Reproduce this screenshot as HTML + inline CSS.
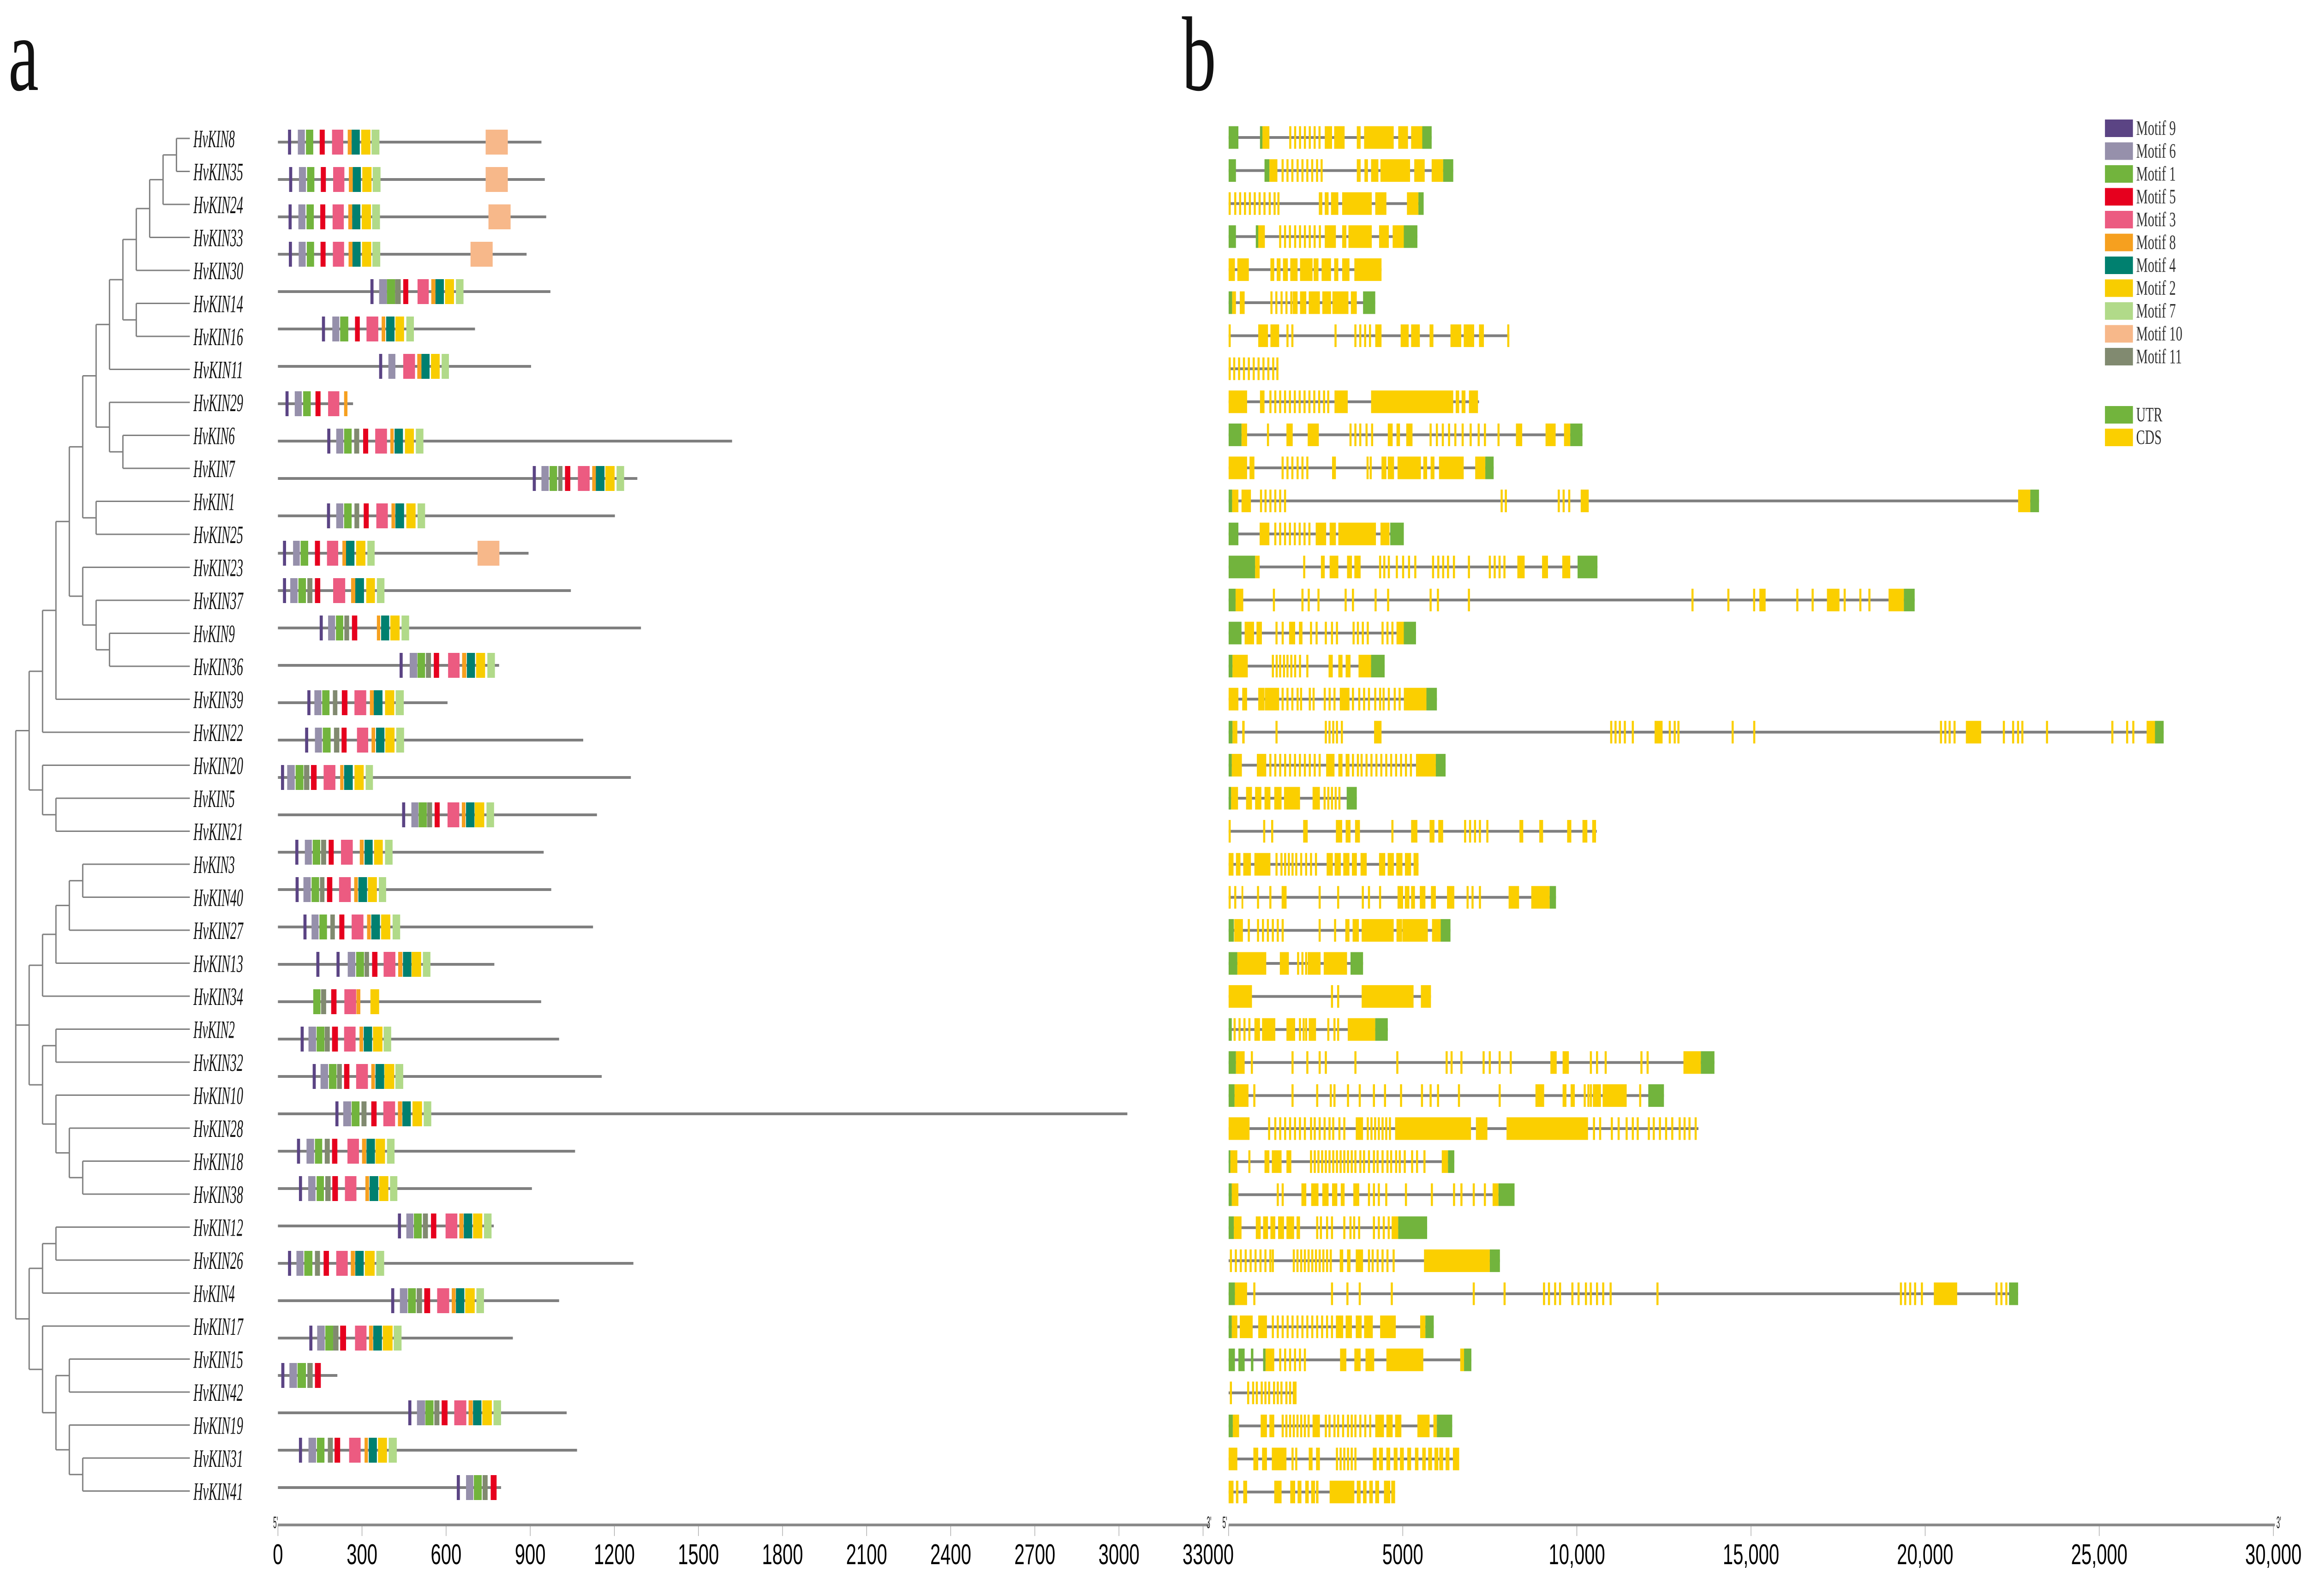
<!DOCTYPE html>
<html><head><meta charset="utf-8"><title>HvKIN motifs and gene structures</title>
<style>
html,body{margin:0;padding:0;background:#fff;overflow:hidden;width:100vw;height:100vh;}
svg{display:block;width:100vw;height:100vh;}
</style></head>
<body>
<svg id="fig" xmlns="http://www.w3.org/2000/svg" viewBox="0 0 7753 3459" preserveAspectRatio="none">
<rect x="0" y="0" width="7753" height="3459" fill="#fff"/>
<text x="28" y="195" font-family="Liberation Serif, serif" font-size="230" fill="#111">a</text>
<text x="3972" y="195" font-family="Liberation Serif, serif" font-size="230" fill="#111">b</text>
<g id="tree"></g>
<g id="labels"></g>
<g id="motifs"></g>
<g id="genes"></g>
<g id="axes"></g>
<g id="legend"></g>
</svg>
<script>
// ---------- data ----------
const geneNames = ["8","35","24","33","30","14","16","11","29","6","7","1","25","23","37","9","36","39","22","20","5","21","3","40","27","13","34","2","32","10","28","18","38","12","26","4","17","15","42","19","31","41"];

const treeTopology = [0,
  [1,
    [2,[3,[4,
      [5,[6,[7,[8,[9,[10,[11,[12,"8","35"],"24"],"33"],"30"],[9,"14","16"]],"11"],[7,"29",[8,"6","7"]]],[6,"1","25"]],
      [5,"23",[6,"37",[7,"9","36"]]]],"39"],"22"],
    [2,"20",[3,"5","21"]]],
  [1,
    [2,[3,[4,[5,"3","40"],"27"],"13"],"34"],
    [2,[3,"2","32"],[3,"10",[4,"28",[5,"18","38"]]]]],
  [1,
    [2,[3,"12","26"],"4"],
    [2,"17",[3,[4,"15","42"],[4,"19",[5,"31","41"]]]]]
];

const motifIds = [9,6,1,5,3,8,4,2,7,10,11];
const motifColors = ["#5b4484","#9690ab","#72b43d","#e6001e","#ec5b81","#f6a01f","#00806f","#f8cd00","#b1da89","#f7b88a","#818a70"];

const motifLengths = [940,952,957,887,972,703,903,268,1620,1282,1202,894,1045,1295,789,605,1089,1259,1138,948,975,1124,772,939,1003,1155,3030,1060,906,770,1268,1003,838,212,1030,1067,796];
const motifBlocks = [
[[9,36,47],[6,71,96],[1,100,126],[5,149,167],[3,193,233],[8,249,263],[4,263,292],[2,297,330],[7,334,362],[10,741,820]],
[[9,40,51],[6,75,100],[1,104,130],[5,153,171],[3,197,237],[8,253,267],[4,267,296],[2,301,334],[7,338,366],[10,741,820]],
[[9,38,49],[6,73,98],[1,102,128],[5,151,169],[3,195,235],[8,251,265],[4,265,294],[2,299,332],[7,336,364],[10,751,830]],
[[9,39,50],[6,74,99],[1,103,129],[5,152,170],[3,196,236],[8,252,266],[4,266,295],[2,300,333],[7,337,365],[10,687,766]],
[[9,330,341],[6,361,389],[1,389,418],[11,418,438],[5,447,465],[3,498,538],[8,547,562],[4,562,592],[2,596,628],[7,635,662]],
[[9,157,168],[6,194,219],[1,222,251],[5,275,292],[3,316,358],[8,370,383],[4,386,416],[2,419,450],[7,458,485]],
[[9,361,372],[6,394,419],[3,447,489],[8,497,512],[4,512,541],[2,546,577],[7,584,610]],
[[9,27,38],[6,60,85],[1,90,117],[5,134,152],[3,179,219],[8,236,248]],
[[9,176,187],[6,208,233],[1,236,263],[11,272,290],[5,304,322],[3,347,389],[8,401,413],[4,416,446],[2,453,485],[7,492,519]],
[[9,909,920],[6,940,966],[1,969,996],[11,1000,1015],[5,1024,1043],[3,1070,1112],[8,1121,1134],[4,1134,1165],[2,1168,1201],[7,1208,1235]],
[[9,175,186],[6,208,233],[1,236,263],[11,273,290],[5,306,324],[3,351,392],[8,405,418],[4,419,450],[2,458,491],[7,498,525]],
[[9,18,29],[6,54,78],[1,81,108],[5,132,150],[3,175,215],[8,230,243],[4,243,273],[2,279,312],[7,319,345],[10,712,790]],
[[9,18,29],[6,44,70],[1,73,100],[11,105,123],[5,132,151],[3,197,240],[8,261,276],[4,276,307],[2,315,346],[7,353,380]],
[[9,149,160],[6,179,204],[1,207,233],[11,237,254],[5,264,283],[8,353,365],[4,368,397],[2,401,434],[7,441,468]],
[[9,434,445],[6,470,497],[1,498,525],[11,528,546],[5,556,575],[3,607,648],[8,657,672],[4,674,703],[2,707,739],[7,747,774]],
[[9,105,116],[6,130,155],[1,158,184],[11,196,212],[5,228,248],[3,273,315],[8,328,342],[4,342,373],[2,382,415],[7,420,449]],
[[9,97,108],[6,132,157],[1,160,188],[11,200,219],[5,227,245],[3,282,322],[8,334,347],[4,350,380],[2,383,416],[7,422,450]],
[[9,11,22],[6,33,60],[1,63,91],[11,93,112],[5,118,138],[3,163,205],[8,222,234],[4,236,267],[2,273,306],[7,313,339]],
[[9,443,454],[6,476,501],[1,502,531],[11,532,550],[5,559,577],[3,605,647],[8,656,669],[4,671,701],[2,702,736],[7,744,771]],
[[9,62,73],[6,96,121],[1,124,151],[11,154,172],[5,181,199],[3,225,267],[8,292,306],[4,309,338],[2,343,374],[7,382,409]],
[[9,63,74],[6,91,117],[1,120,147],[11,150,166],[5,175,194],[3,218,260],[8,272,285],[4,287,318],[2,321,353],[7,360,386]],
[[9,91,102],[6,120,145],[1,148,175],[11,187,203],[5,219,237],[3,263,305],[8,318,331],[4,333,364],[2,368,401],[7,409,436]],
[[9,137,148],[9,209,220],[6,249,276],[1,279,307],[11,309,325],[5,336,355],[3,377,419],[8,429,444],[4,446,476],[2,477,511],[7,517,544]],
[[1,126,152],[11,154,172],[5,190,209],[3,237,279],[8,280,294],[2,330,361]],
[[9,81,92],[6,109,136],[1,138,166],[11,167,185],[5,193,214],[3,236,277],[8,291,304],[4,306,336],[2,339,373],[7,377,404]],
[[9,124,135],[6,152,179],[1,182,209],[11,211,228],[5,236,255],[3,279,321],[8,333,346],[4,348,379],[2,380,415],[7,419,447]],
[[9,205,216],[6,233,261],[1,263,291],[11,298,316],[5,333,352],[3,376,418],[8,428,443],[4,444,474],[2,480,514],[7,520,547]],
[[9,68,79],[6,102,129],[1,132,158],[11,167,185],[5,193,212],[3,248,289],[8,300,315],[4,316,346],[2,348,382],[7,389,416]],
[[9,75,86],[6,108,134],[1,138,164],[11,169,188],[5,194,214],[3,239,280],[8,312,325],[4,327,358],[2,361,394],[7,400,426]],
[[9,428,439],[6,458,483],[1,485,513],[11,517,535],[5,546,565],[3,598,640],[8,647,662],[4,663,693],[2,696,729],[7,735,762]],
[[9,36,47],[6,66,91],[1,94,123],[11,132,150],[5,163,182],[3,208,249],[8,260,275],[4,276,306],[2,310,345],[7,351,379]],
[[9,404,415],[6,435,462],[1,464,492],[11,495,514],[5,522,543],[3,568,611],[8,620,634],[4,635,665],[2,668,702],[7,708,735]],
[[9,112,123],[6,140,167],[1,169,197],[11,197,216],[5,222,243],[3,275,316],[8,325,339],[4,340,371],[2,374,409],[7,413,441]],
[[9,12,23],[6,41,68],[1,70,100],[11,105,124],[5,132,153]],
[[9,465,476],[6,496,525],[1,526,555],[11,558,576],[5,584,605],[3,629,672],[8,680,695],[4,696,726],[2,729,763],[7,769,796]],
[[9,75,86],[6,109,136],[1,139,166],[11,178,196],[5,202,222],[3,254,295],[8,309,321],[4,324,353],[2,357,389],[7,395,424]],
[[9,638,649],[6,671,697],[1,699,727],[11,730,748],[5,759,780]]
];

// gene structures: [start,end] = CDS, [start,end,0] = UTR, single number = short CDS exon start (THIN_BP long)
const THIN_BP = 60;
const geneLengths = [5830,6450,5600,5420,4390,4210,8060,1430,7190,10160,7610,23270,5030,10590,19700,5380,4480,5980,26850,6230,3680,10570,5452,9400,6370,3860,5810,4570,13950,12500,13490,6480,8210,5700,7790,22670,5890,6970,1950,6420,6620,4780];
const geneExons = [
[[0,280,0],[900,970,0],[970,1170],1740,1880,2020,2160,2300,2440,2580,[2760,2970],[3030,3330],[3680,3790],[3890,4740],[4870,5150],[5240,5560],[5560,5830,0]],
[[0,210,0],[1030,1170,0],[1170,1400],1520,1660,1800,1950,2090,2230,2370,2510,2640,[3680,3790],[3900,4000],[4090,4300],[4360,5210],[5330,5630],[5830,6160],[6160,6450,0]],
[0,160,300,440,580,720,860,1000,1150,1290,1400,[2590,2690],[2760,2870],[2940,3150],[3260,4110],[4210,4530],[5120,5450],[5450,5600,0]],
[[0,210,0],[780,850,0],[850,1040],1450,1590,1730,1880,2020,2160,2300,2440,2590,[2760,3080],[3260,3380],[3440,4110],[4320,4600],[4710,5030],[5030,5420,0]],
[[0,180],[250,580],[1200,1310],[1380,1490],[1560,1700],[1770,1980],[2050,2410],[2440,2580],[2670,2940],[3030,3150],[3260,3470],[3610,4390]],
[[0,100,0],[100,210],[320,460],1200,1340,1490,1630,1770,[1840,1980],[2050,2230],[2300,2620],[2690,2940],[2980,3440],[3510,3680],[3860,4210,0]],
[[0,60],[850,1130],[1200,1450],1660,1800,3040,3610,3750,3890,4030,[4210,4390],[4940,5170],[5240,5490],[5770,5880],[6370,6680],[6750,7050],[7190,7330],8000],
[0,130,270,410,550,690,830,970,1110,1250,1370],
[[0,530],[900,1030],1170,1310,1450,1590,1730,1870,2010,2150,2290,2430,2570,2710,2830,[3040,3420],[4090,6450],[6520,6620],[6690,6800],[6900,7160]],
[[0,370,0],[370,530],1100,[1660,1840],[2270,2590],3470,3610,3750,3930,4090,[4570,4710],[4820,4920],[5100,5280],5770,5950,6120,6300,6480,6690,6920,7150,7330,7720,[8250,8430],[9100,9390],[9630,9810],[9810,10160,0]],
[[0,530],[600,740],1520,1660,1800,1950,2090,2230,[2970,3080],3960,4050,[4390,4530],[4570,4750],[4850,5520],[5590,5700],[5800,5910],[6040,6750],[7080,7370],[7370,7610,0]],
[[0,100,0],[100,280],[370,640],900,1030,1170,1310,1450,1590,7810,7930,9450,9590,9750,[10110,10340],[22670,23020],[23020,23270,0]],
[[0,280,0],[890,1170],1310,1450,1590,1730,1870,2010,2150,2290,[2500,2800],[2900,3080],[3150,4230],[4360,4620],[4640,5030,0]],
[[0,760,0],[760,890],2140,[2650,2760],[2900,3150],[3400,3540],[3610,3790],4320,4440,4570,4800,4980,5150,5330,5840,5990,6130,6270,6440,6870,7470,7610,7750,7890,[8290,8500],[9000,9170],[9580,9810],[10020,10590,0]],
[[0,200,0],[200,420],1270,2090,2270,2550,3330,3540,4190,4550,5770,5980,6870,13290,14320,15060,[15240,15420],16300,16740,[17180,17540],17660,18110,18370,[18950,19390],[19390,19700,0]],
[[0,370,0],[460,730],[800,955],1345,1522,[1735,1910],[2020,2120],2336,2496,2761,2938,3080,3558,3682,3823,3965,4390,4531,4673,[4820,5030],[5030,5380,0]],
[[0,110,0],[110,550],1240,1350,1450,1560,1660,1770,1880,2020,2230,[2870,2990],[3150,3270],[3360,3500],[3730,4090],[4090,4480,0]],
[[0,280],[390,530],[850,1030],[1040,1450],1520,1660,1800,1950,2050,2300,2410,2730,2870,3010,[3190,3470],3540,3720,3860,4000,4180,4320,4420,4570,4740,4880,[5030,5680],[5680,5980,0]],
[[0,110,0],[110,250],[390,460],1345,2761,2867,2974,3080,3221,[4177,4390],10956,11080,11204,11346,11576,[12231,12461],12638,12779,12886,14443,15063,20426,20550,20674,20815,[21170,21610],22231,22497,22638,22762,23470,25346,25771,25948,[26360,26600],[26600,26850,0]],
[[0,90,0],[90,380],[810,1080],1168,1310,1451,1593,1734,1876,2017,2159,2301,2442,2584,[2800,3040],[3150,3270],[3360,3470],3540,3682,3788,3929,4071,4213,4354,4496,4637,4779,4921,5062,5204,[5380,5950],[5950,6230,0]],
[[0,70,0],[70,270],[500,670],[760,940],[1030,1200],[1310,1520],[1590,2050],[2410,2620],2726,2832,2938,3044,3151,[3390,3680,0]],
[0,991,1221,[2140,2270],[3080,3260],[3360,3500],[3630,3770],4673,[5240,5420],[5770,5910],[6020,6160],6761,6903,7045,7186,7399,[8350,8460],[8920,9030],[9720,9840],[10160,10300],[10440,10550]],
[[0,140],[210,340],[420,640],[740,1200],1345,1487,1593,1699,1805,1912,2053,2195,2336,2478,[2814,2991],[3044,3221],[3292,3469],[3540,3682],[3788,3965],[4319,4496],[4567,4744],[4814,4991],[5062,5239],[5310,5452]],
[0,160,[370,420],814,1168,[1522,1664],2584,3115,3823,4000,4319,[4850,5010],[5060,5190],[5240,5350],[5490,5650],[5810,5950],[6270,6480],6832,6974,7186,[8040,8340],[8690,9220],[9220,9400,0]],
[[0,150,0],[160,410],549,814,956,1097,1239,1381,1522,2584,3027,[3350,3470],[3560,3740],[3820,4740],[4820,4980],[4990,5720],[5840,6090],[6090,6370,0]],
[[0,250,0],[250,1080],[1470,1730],1965,2089,2195,[2270,2640],[2730,3400],[3500,3860,0]],
[[0,670],2938,3115,[3820,5310],[5520,5810]],
[[0,90,0],142,283,425,566,[740,900],[960,1340],[1660,1910],2018,2124,2195,[2300,2510],2832,3009,3115,[3420,4210],[4210,4570,0]],
[[0,210,0],[210,460],637,1805,2230,2584,2761,3611,4814,6230,6372,6655,7292,7469,7753,8071,[9240,9420],[9590,9770],10372,10549,10797,11824,12001,[13060,13560],[13560,13950,0]],
[[0,170,0],[170,570],708,1805,2513,2903,3009,3398,3735,4142,4460,4921,5522,5770,5983,6584,7753,[8810,9060],[9590,9700],[9820,9940],10195,10301,10372,[10460,10690],[10740,11430],11788,[12050,12500,0]],
[[0,600],1133,1310,1451,1593,1735,1876,2018,2159,2336,2443,2584,2726,2867,2974,3151,3292,[3650,3860],3965,4071,4177,4283,4390,4496,4602,[4780,6960],[7100,7430],[7980,10320],10461,10638,10974,11169,11399,11576,11717,12036,12178,12355,12532,12709,12921,13063,13204,13381],
[[0,50,0],[50,250],566,[1030,1170],[1240,1520],[1660,1800],2336,2443,2549,2655,2761,2867,2974,3080,3186,3292,3398,3505,3611,3752,3859,4000,4142,4248,4390,4531,4637,4779,4885,5027,5239,5381,5593,[6120,6300],[6300,6480,0]],
[[0,90,0],[90,280],1381,1522,[2090,2230],[2370,2580],[2690,2870],[2970,3120],[3220,3330],[3580,3750],4000,4142,4283,4496,5062,5806,6443,6655,7009,7328,[7580,7750],[7750,8210,0]],
[[0,150,0],[150,370],[780,920],[990,1130],[1200,1340],[1420,1590],[1660,1880],[1950,2050],2513,2620,2797,2938,3292,3469,3575,3717,4142,4283,4425,4567,[4680,4870],[4870,5700,0]],
[35,177,319,460,602,743,885,1027,1168,1239,1841,1947,2053,2159,2266,2372,2478,2584,2690,2797,2903,[3190,3290],[3400,3500],[3650,3860],4000,4106,4248,4390,4531,4708,[5610,7500],[7500,7790,0]],
[[0,180,0],[180,530],708,2938,3381,3735,4655,7009,7894,9027,9169,9346,9487,9841,10018,10231,10372,10549,10726,10939,12284,19275,19399,19541,19682,19877,[20250,20920],22019,22160,22302,[22410,22670,0]],
[[0,90,0],[90,250],[320,690],[850,1100],1239,1381,1522,1664,1805,1947,2089,2230,2372,2513,2655,2797,2938,3080,[3120,3290],[3360,3540],[3650,3820],[3890,4140],[4350,4800],[5500,5650],[5650,5890,0]],
[[0,180,0],[280,460,0],[640,710,0],[990,1060,0],[1060,1310],1451,1593,1735,1876,2018,2159,[3200,3380],[3610,3790],[3930,4180],[4530,5590],[6650,6760],[6760,6970,0]],
[35,531,673,779,920,1027,1133,1274,1381,1487,1628,1735,1841,1890],
[[0,120,0],[120,300],[920,1100],[1170,1310],1522,1628,1735,1841,1947,2053,2159,2266,[2410,2620],2761,2867,3009,3115,3257,3398,3505,3611,3752,3894,4036,[4210,4460],[4530,4710],[4780,4960],[5420,5770],[5880,5980],[5980,6420,0]],
[[0,250],[710,850],[960,1100],[1240,1660],1805,1912,[2300,2410],[2510,2620],3080,3186,3292,3398,3505,3611,[4140,4250],[4320,4430],[4530,4640],[4740,4850],[4920,5030],[5130,5240],[5350,5450],[5560,5660],[5730,5840],[5910,6020],[6050,6160],[6230,6340],[6440,6620]],
[[0,140],[210,280],[420,530],[1310,1520],[1770,1910],[1980,2090],[2200,2300],[2370,2480],[2510,2580],[2900,3610],[3680,3790],[3860,3960],[4040,4140],[4210,4320],[4460,4640],[4670,4780]]
];

const aTickValues = [0,300,600,900,1200,1500,1800,2100,2400,2700,3000,3300];
const aTickLabels = ["0","300","600","900","1200","1500","1800","2100","2400","2700","3000","3300"];
const bTickValues = [0,5000,10000,15000,20000,25000,30000];
const bTickLabels = ["0","5000","10,000","15,000","20,000","25,000","30,000"];
const legendLabels = ["Motif 9","Motif 6","Motif 1","Motif 5","Motif 3","Motif 8","Motif 4","Motif 2","Motif 7","Motif 10","Motif 11"];
const structureLegend = ["UTR","CDS"];
const structureColors = ["#72b43d","#fbcf00"];

// ---------- scales ----------
const NS = "http://www.w3.org/2000/svg";
const ax0 = 934, axPerUnit = (4043-934)/3300;
const bx0 = 4129, bxPerUnit = (7640-4129)/30000;
const xA = v => ax0 + v*axPerUnit;
const xB = v => bx0 + v*bxPerUnit;
const labelY = i => 300 + i*71.5;
const motifRowY = i => 308 + i*81;
const geneRowY = i => 298 + i*71.6;
const levelX = l => 53 + 45*l;
const LEAF_X = 638;
const LINE = "#7f7f7f";

function mk(tag, attrs, parent){
  const el = document.createElementNS(NS, tag);
  for (const k in attrs) el.setAttribute(k, attrs[k]);
  parent.appendChild(el);
  return el;
}

// ---------- labels ----------
const gLab = document.getElementById("labels");
geneNames.forEach((n,i)=>{
  const t = mk("text",{x:650,y:labelY(i)+19,"font-family":"Liberation Serif, serif","font-style":"italic","font-size":54,fill:"#111",textLength:(27.8*(n.length+4)).toFixed(0),lengthAdjust:"spacingAndGlyphs"},gLab);
  t.textContent = "HvKIN"+n;
  
  
});

// ---------- tree ----------
const gTree = document.getElementById("tree");
function drawNode(node){
  if (typeof node === "string"){
    return {y: labelY(geneNames.indexOf(node)), x: LEAF_X, leaf:true};
  }
  const lvl = node[0];
  const nx = levelX(lvl);
  const kids = node.slice(1).map(drawNode);
  kids.forEach(k=>{
    const h = mk("line",{x1:nx,y1:k.y,x2:k.x,y2:k.y,stroke:LINE,"stroke-width":3},gTree);
    
    
  });
  const ys = kids.map(k=>k.y);
  const y1 = Math.min(...ys), y2 = Math.max(...ys);
  const v = mk("line",{x1:nx,y1:y1,x2:nx,y2:y2,stroke:LINE,"stroke-width":4.5},gTree);
  
  
  return {x:nx, y:(y1+y2)/2};
}
drawNode(treeTopology);

// ---------- motifs ----------
const gMot = document.getElementById("motifs");
motifLengths.forEach((len,i)=>{
  const y = motifRowY(i);
  const row = mk("g",{},gMot);
  
  
  const ln = mk("line",{x1:xA(0),y1:y,x2:xA(len),y2:y,stroke:LINE,"stroke-width":6},row);
  
  
  motifBlocks[i].forEach(b=>{
    const ci = motifIds.indexOf(b[0]);
    const r = mk("rect",{x:xA(b[1]),y:y-27,width:Math.max(6,xA(b[2])-xA(b[1])),height:54,fill:motifColors[ci]},row);
    
    
  });
});

// ---------- gene structures ----------
const gGen = document.getElementById("genes");
geneLengths.forEach((len,i)=>{
  const y = geneRowY(i);
  const row = mk("g",{},gGen);
  
  
  const ln = mk("line",{x1:xB(0),y1:y,x2:xB(len),y2:y,stroke:LINE,"stroke-width":6},row);
  
  
  geneExons[i].forEach(e=>{
    let s,en,utr;
    if (typeof e === "number"){ s=e; en=e+THIN_BP; utr=false; }
    else { s=e[0]; en=e[1]; utr=(e.length>2); }
    const r = mk("rect",{x:xB(s),y:y-24.5,width:Math.max(5,xB(en)-xB(s)),height:49,fill:utr?structureColors[0]:structureColors[1]},row);
    
    
  });
});

// ---------- axes ----------
const gAx = document.getElementById("axes");
const AXY = 3305;
function axis(x1,x2,vals,labs,scale,name){
  const g = mk("g",{},gAx);
  
  
  const l = mk("line",{x1:x1,y1:AXY,x2:x2,y2:AXY,stroke:"#8a8a8a","stroke-width":6},g);
  
  
  vals.forEach((v,k)=>{
    const tx = scale(v);
    const t = mk("line",{x1:tx,y1:AXY,x2:tx,y2:AXY+24,stroke:"#888","stroke-width":1.5},g);
    
    
    const tl = mk("text",{x:tx,y:3390,"text-anchor":"middle","font-family":"Liberation Sans, sans-serif","font-size":62,fill:"#000"},g);
    tl.textContent = labs[k];
    
    
  });
}
axis(ax0,4063,aTickValues,aTickLabels,xA,"motif-axis");
axis(bx0,7645,bTickValues,bTickLabels,xB,"gene-axis");
[[918,"5'","axis-5-prime-a"],[4055,"3'","axis-3-prime-a"],[4108,"5'","axis-5-prime-b"],[7650,"3'","axis-3-prime-b"]].forEach(p=>{
  const t = mk("text",{x:p[0],y:3312,"font-family":"Liberation Sans, sans-serif","font-size":36,fill:"#222",textLength:16,lengthAdjust:"spacingAndGlyphs"},gAx);
  t.textContent = p[1];
  
  
});

// ---------- legend ----------
const gLeg = document.getElementById("legend");
legendLabels.forEach((lab,k)=>{
  const y = 259 + 49.5*k;
  const sw = mk("rect",{x:7074,y:y,width:94,height:38,fill:motifColors[k]},gLeg);
  
  
  const t = mk("text",{x:7179,y:y+33,"font-family":"Liberation Serif, serif","font-size":44,fill:"#333"},gLeg);
  t.textContent = lab;
  
  
});
structureLegend.forEach((lab,k)=>{
  const y = 880 + 49*k;
  const sw = mk("rect",{x:7074,y:y,width:94,height:38,fill:structureColors[k]},gLeg);
  
  
  const t = mk("text",{x:7179,y:y+33,"font-family":"Liberation Serif, serif","font-size":44,fill:"#333"},gLeg);
  t.textContent = lab;
  
  
});
</script>
</body></html>
